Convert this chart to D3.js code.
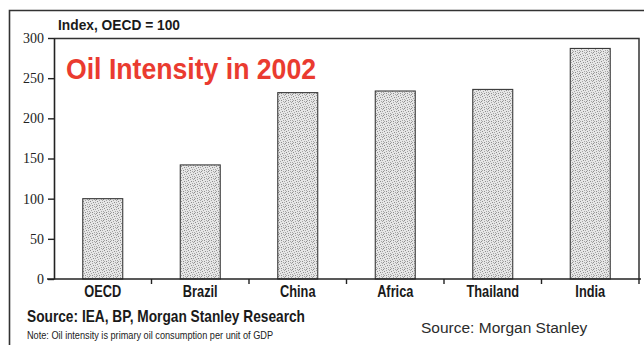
<!DOCTYPE html>
<html>
<head>
<meta charset="utf-8">
<script src="https://cdn.jsdelivr.net/npm/d3@7"></script>
<style>
  body { margin: 0; background: #fff; }
  svg { display: block; }
</style>
</head>
<body>
<div id="chart"></div>
<script>
// data
const countries = ["OECD", "Brazil", "China", "Africa", "Thailand", "India"];
const intensity = [100, 142, 232, 234, 236, 287];
const yTicks = [0, 50, 100, 150, 200, 250, 300];

const svgWidth = 644, svgHeight = 345;
const margin = { top: 38, right: 5, bottom: 66, left: 54 };
const width = 639 - margin.left;
const height = 279 - margin.top;

const narrow = "'Liberation Sans Narrow', 'Liberation Sans', Arial, sans-serif";

const svg = d3.select("#chart").append("svg")
    .attr("width", svgWidth)
    .attr("height", svgHeight);

// stipple pattern for the bars (scattered dark specks on light grey)
const defs = svg.append("defs");
const pat = defs.append("pattern")
    .attr("id", "stipple")
    .attr("patternUnits", "userSpaceOnUse")
    .attr("width", 7).attr("height", 7);
pat.append("rect").attr("width", 7).attr("height", 7).attr("fill", "#e6e6e6");
const specks = [[0, 0], [3, 1], [5, 0], [1, 2], [6, 3], [2, 4], [4, 3], [0, 5], [5, 5], [3, 6], [1, 6], [6, 1]];
specks.forEach(([px, py], i) => {
    pat.append("rect")
        .attr("x", px).attr("y", py)
        .attr("width", 1).attr("height", 1)
        .attr("fill", i % 3 === 0 ? "#8c8c8c" : "#a6a6a6");
});

// outer frame (left + top)
svg.append("path")
    .attr("d", "M9.5,345 V10.5 H644")
    .attr("fill", "none")
    .attr("stroke", "#333")
    .attr("stroke-width", 1.6);

const g = svg.append("g").attr("transform", `translate(${margin.left},${margin.top})`);

const x = d3.scaleBand().domain(countries).range([0, width]).paddingInner(0.59).paddingOuter(0.295);
const xEdges = d3.scaleBand().domain(countries).range([0, width]);
const y = d3.scaleLinear().domain([0, 300]).range([height, 0]);

// plot frame top + right
g.append("path")
    .attr("d", `M0,0.5 H${width} V${height}`)
    .attr("fill", "none")
    .attr("stroke", "#333")
    .attr("stroke-width", 1.5);

// bars
g.selectAll("rect.bar")
    .data(countries)
    .join("rect")
    .attr("class", "bar")
    .attr("x", d => x(d))
    .attr("y", (d, i) => y(intensity[i]))
    .attr("width", x.bandwidth())
    .attr("height", (d, i) => height - y(intensity[i]))
    .attr("fill", "url(#stipple)")
    .attr("stroke", "#3a3a3a")
    .attr("stroke-width", 1.1);

// y axis
const yAxis = g.append("g")
    .call(d3.axisLeft(y).tickValues(yTicks).tickSize(6).tickPadding(4).tickSizeOuter(0));
yAxis.select(".domain").attr("stroke", "#222").attr("stroke-width", 1.6);
yAxis.selectAll(".tick line").attr("stroke", "#222").attr("stroke-width", 1.4);
yAxis.selectAll(".tick text")
    .attr("font-family", "'Liberation Serif', 'DejaVu Serif', serif")
    .attr("font-size", 14)
    .attr("fill", "#222");

// x axis: ticks sit between categories
const xAxisG = g.append("g").attr("transform", `translate(0,${height})`);
xAxisG.append("line")
    .attr("x1", -7).attr("x2", width + 2)
    .attr("stroke", "#222").attr("stroke-width", 1.6);
xAxisG.selectAll("line.sep")
    .data(countries.slice(1))
    .join("line")
    .attr("class", "sep")
    .attr("x1", d => xEdges(d)).attr("x2", d => xEdges(d))
    .attr("y1", 0).attr("y2", 5)
    .attr("stroke", "#222").attr("stroke-width", 1.4);
xAxisG.append("line")
    .attr("x1", width).attr("x2", width).attr("y1", 0).attr("y2", 5)
    .attr("stroke", "#222").attr("stroke-width", 1.4);
// condensed look: squeeze the labels horizontally
xAxisG.selectAll("text.cat")
    .data(countries)
    .join("text")
    .attr("class", "cat")
    .attr("transform", d => `translate(${x(d) + x.bandwidth() / 2},18) scale(0.8,1)`)
    .attr("text-anchor", "middle")
    .attr("font-family", narrow)
    .attr("font-weight", "bold")
    .attr("font-size", 16)
    .attr("fill", "#1a1a1a")
    .text(d => d);

// texts
svg.append("text")
    .attr("x", 58).attr("y", 30)
    .attr("textLength", 122)
    .attr("lengthAdjust", "spacingAndGlyphs")
    .attr("font-family", narrow)
    .attr("font-weight", "bold")
    .attr("font-size", 15.5)
    .attr("fill", "#1a1a1a")
    .text("Index, OECD = 100");

svg.append("text")
    .attr("x", 66).attr("y", 79)
    .attr("textLength", 250)
    .attr("lengthAdjust", "spacingAndGlyphs")
    .attr("font-family", narrow)
    .attr("font-weight", "bold")
    .attr("font-size", 30)
    .attr("fill", "#ea3b30")
    .text("Oil Intensity in 2002");

svg.append("text")
    .attr("x", 27).attr("y", 322)
    .attr("textLength", 278)
    .attr("lengthAdjust", "spacingAndGlyphs")
    .attr("font-family", narrow)
    .attr("font-weight", "bold")
    .attr("font-size", 17)
    .attr("fill", "#1a1a1a")
    .text("Source: IEA, BP, Morgan Stanley Research");

svg.append("text")
    .attr("x", 27).attr("y", 339)
    .attr("textLength", 246)
    .attr("lengthAdjust", "spacingAndGlyphs")
    .attr("font-family", narrow)
    .attr("font-size", 11)
    .attr("fill", "#222")
    .text("Note: Oil intensity is primary oil consumption per unit of GDP");

svg.append("text")
    .attr("x", 421).attr("y", 333)
    .attr("font-family", "'Liberation Sans', Arial, sans-serif")
    .attr("font-size", 15.5)
    .attr("fill", "#2b2b2b")
    .text("Source: Morgan Stanley");
</script>
</body>
</html>
